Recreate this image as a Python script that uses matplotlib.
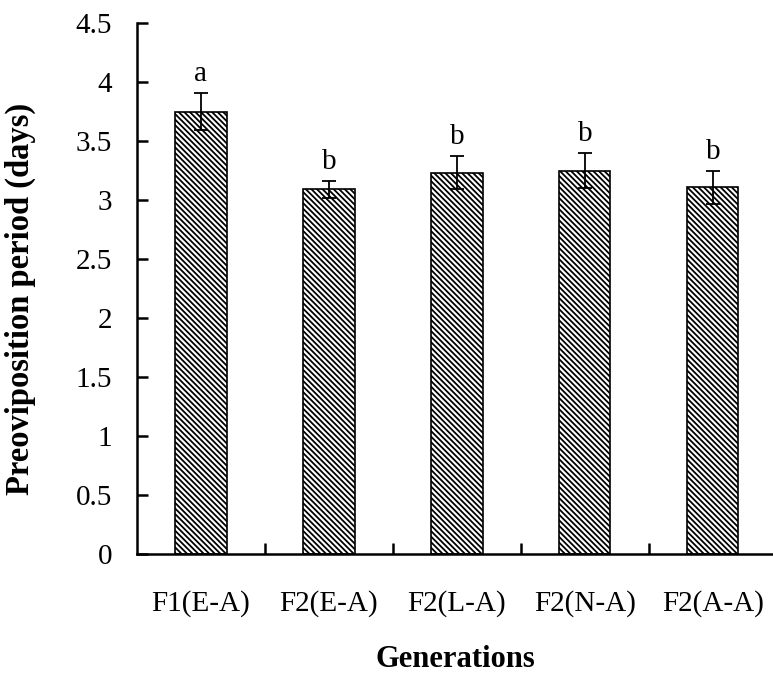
import matplotlib
matplotlib.use("Agg")
import matplotlib.pyplot as plt
import numpy as np

generations = ["F1(E-A)", "F2(E-A)", "F2(L-A)", "F2(N-A)", "F2(A-A)"]
meanDays = [3.75, 3.09, 3.23, 3.25, 3.11]
errDays = [0.16, 0.07, 0.14, 0.15, 0.14]
letters = ["a", "b", "b", "b", "b"]

plt.rcParams['font.family'] = ['Liberation Serif', 'DejaVu Serif']
plt.rcParams['hatch.linewidth'] = 1.3
plt.rcParams['hatch.color'] = '#222222'

fig = plt.figure(figsize=(7.73, 6.73), dpi=100)
ax = fig.add_axes([0.1772, 0.1768, 0.8228, 0.789])

x = np.arange(len(generations))
ax.bar(x, meanDays, width=0.4, color='white', edgecolor='black', linewidth=1.2,
       hatch='\\\\\\\\\\\\', zorder=2)
ax.errorbar(x, meanDays, yerr=errDays, fmt='none', ecolor='black',
            elinewidth=1.3, capsize=5, capthick=1.3, zorder=3)

# letras de significancia
for i in range(len(generations)):
    ax.text(x[i], meanDays[i] + errDays[i] + 0.05, letters[i],
            ha='center', va='bottom', fontsize=21)

ax.set_xlim(-0.5, 4.47)
ax.set_ylim(0, 4.5)
ax.set_yticks(np.arange(0, 4.51, 0.5))
ax.set_yticklabels(["0", "0.5", "1", "1.5", "2", "2.5", "3", "3.5", "4", "4.5"])
ax.set_xticks(x)
ax.set_xticklabels(generations)
ax.set_xticks(x[:-1] + 0.5, minor=True)

ax.tick_params(axis='y', direction='in', length=8, width=1.8, pad=18, labelsize=21)
ax.tick_params(axis='x', which='major', length=0, pad=26, labelsize=21)
ax.tick_params(axis='x', which='minor', direction='in', length=8, width=1.8)

for side in ['top', 'right']:
    ax.spines[side].set_visible(False)
for side in ['left', 'bottom']:
    ax.spines[side].set_linewidth(1.8)

ax.set_ylabel("Preoviposition period (days)", fontsize=23.5, fontweight='bold')
ax.yaxis.set_label_coords(-0.158, 0.48)
ax.set_xlabel("Generations", fontsize=22, fontweight='bold', labelpad=20)

fig.savefig("out.png", dpi=100)
